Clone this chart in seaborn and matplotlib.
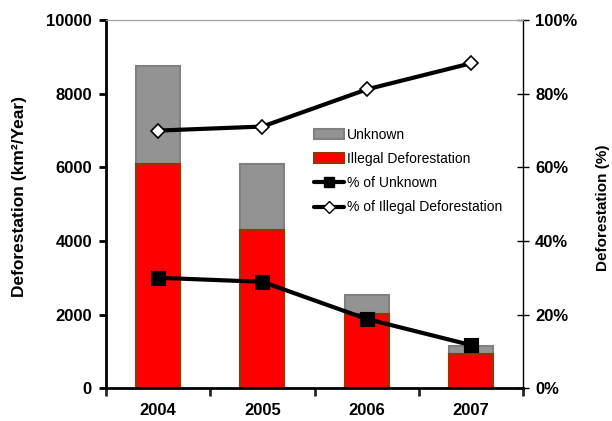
import matplotlib
matplotlib.use("Agg")
import matplotlib.pyplot as plt
import seaborn as sns
import pandas as pd
from matplotlib.patches import Patch
from matplotlib.lines import Line2D
from matplotlib.ticker import PercentFormatter

years = ["2004", "2005", "2006", "2007"]
total_defor = [8750, 6100, 2530, 1140]
illegal_defor = [6100, 4300, 2010, 930]
pct_unknown = [0.300, 0.289, 0.188, 0.117]
pct_illegal = [0.700, 0.711, 0.812, 0.883]

sns.set_theme(style="ticks")
plt.rcParams['font.family'] = ['Liberation Sans', 'DejaVu Sans']
plt.rcParams['text.color'] = 'black'
plt.rcParams['axes.labelcolor'] = 'black'

df = pd.DataFrame({"year": years, "total": total_defor, "illegal": illegal_defor,
                   "pu": pct_unknown, "pi": pct_illegal})

fig, ax = plt.subplots(figsize=(6.12, 4.21), dpi=100)
fig.subplots_adjust(left=0.173, right=0.855, top=0.952, bottom=0.078)

sns.barplot(data=df, x="year", y="total", order=years, color="#939393",
            edgecolor="#808080", linewidth=1.5, width=0.42, saturation=1, ax=ax)
sns.barplot(data=df, x="year", y="illegal", order=years, color="#FF0000",
            edgecolor="#993300", linewidth=1.5, width=0.42, saturation=1, ax=ax)

ax.set_ylim(0, 10000)
ax.set_yticks(range(0, 10001, 2000))
ax.set_xlim(-0.5, 3.5)
ax.set_xlabel("")
ax.set_ylabel("Deforestation (km²/Year)", fontsize=12.5, fontweight="bold", color="black")
ax.yaxis.set_label_coords(-0.188, 0.52)

ax2 = ax.twinx()
sns.pointplot(data=df, x="year", y="pu", order=years, color="black", marker="s",
              markersize=9, linewidth=3, ax=ax2)
sns.pointplot(data=df, x="year", y="pi", order=years, color="black", marker="D",
              markersize=7, linewidth=3, markerfacecolor="white",
              markeredgecolor="black", markeredgewidth=1.2, ax=ax2)
ax2.set_ylim(0, 1)
ax2.set_xlim(-0.5, 3.5)
ax2.set_yticks([0, 0.2, 0.4, 0.6, 0.8, 1.0])
ax2.yaxis.set_major_formatter(PercentFormatter(1.0, decimals=0))
ax2.set_ylabel("Deforestation (%)", fontsize=11, fontweight="bold", color="black")
ax2.yaxis.set_label_coords(1.174, 0.49)
ax2.set_xlabel("")

for a in (ax, ax2):
    for lab in a.get_xticklabels() + a.get_yticklabels():
        lab.set_fontweight("bold")
        lab.set_fontsize(12)

ax.spines['left'].set_linewidth(2)
ax.spines['bottom'].set_linewidth(2)
ax.spines['left'].set_color("black")
ax.spines['bottom'].set_color("black")
ax.spines['top'].set_color("#a0a0a0")
ax.spines['top'].set_linewidth(0.8)
ax.spines['right'].set_visible(False)
ax2.spines['left'].set_visible(False)
ax2.spines['bottom'].set_visible(False)
ax2.spines['top'].set_color("#a0a0a0")
ax2.spines['top'].set_linewidth(0.8)
ax2.spines['right'].set_color("black")
ax2.spines['right'].set_linewidth(1)

ax.tick_params(axis='y', direction='out', length=5, width=2, pad=5, colors="black")
ax.tick_params(axis='x', direction='out', length=5, width=2, pad=11, colors="black")
ax.set_xticks([-0.5, 0.5, 1.5, 2.5, 3.5], minor=True)
ax.tick_params(axis='x', which='major', length=0)
ax.tick_params(axis='x', which='minor', direction='out', length=6, width=2)
ax2.tick_params(axis='y', direction='inout', length=9, width=1, pad=4, colors="black")

handles = [
    Patch(facecolor="#939393", edgecolor="#808080", linewidth=1.5),
    Patch(facecolor="#FF0000", edgecolor="#993300", linewidth=1.5),
    Line2D([], [], color="black", lw=3, marker="s", markersize=7),
    Line2D([], [], color="black", lw=3, marker="D", markersize=6,
           markerfacecolor="white", markeredgecolor="black"),
]
labels = ["Unknown", "Illegal Deforestation", "% of Unknown", "% of Illegal Deforestation"]
ax2.legend(handles, labels, loc="upper left", bbox_to_anchor=(0.485, 0.722),
           frameon=False, fontsize=10, handlelength=2.2, handletextpad=0.2,
           labelspacing=0.73, borderaxespad=0, labelcolor="black")

fig.savefig("out.png", dpi=100)
